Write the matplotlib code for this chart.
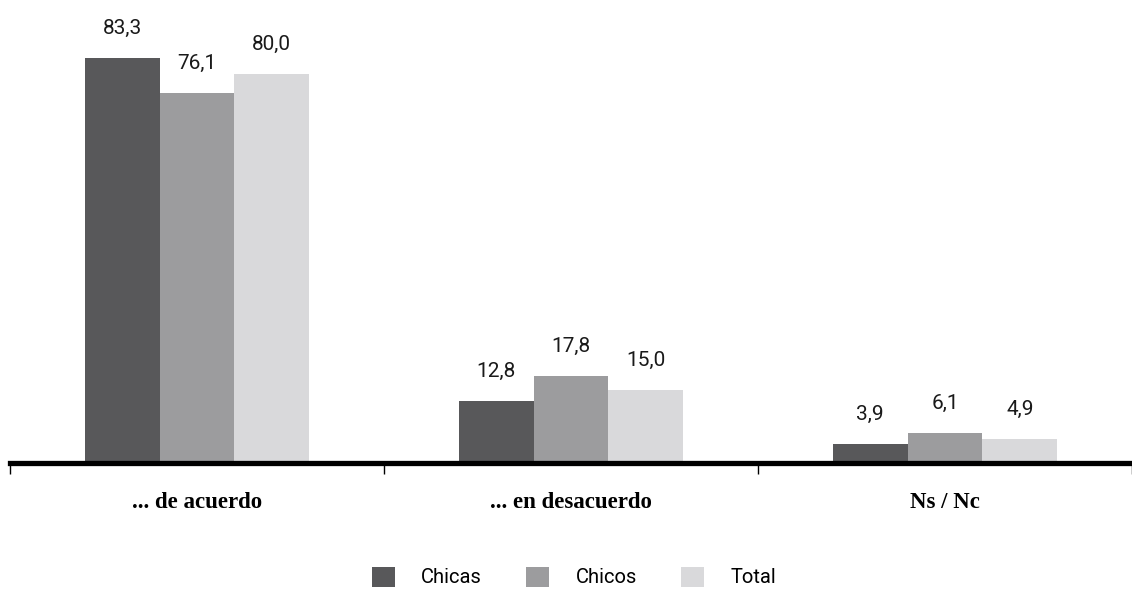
import matplotlib
matplotlib.use("Agg")
import matplotlib.pyplot as plt
from matplotlib.patches import Patch
import numpy as np

categories = ["... de acuerdo", "... en desacuerdo", "Ns / Nc"]
series_names = ["Chicas", "Chicos", "Total"]
chicas = [83.3, 12.8, 3.9]
chicos = [76.1, 17.8, 6.1]
total = [80.0, 15.0, 4.9]
colors = ["#58585a", "#9c9c9e", "#d9d9db"]

num_font = ["Roboto", "DejaVu Sans"]
cat_font = ["Liberation Serif", "DejaVu Serif"]

W, H = 1132, 589
fig = plt.figure(figsize=(W / 100, H / 100), dpi=100)
ax = fig.add_axes([10 / W, (H - 463) / H, 1122 / W, 463 / H])

x = np.arange(len(categories))
width = 0.2
for i, (name, vals, c) in enumerate(zip(series_names, [chicas, chicos, total], colors)):
    bars = ax.bar(x + (i - 1) * width, vals, width, color=c, label=name, zorder=2)
    for b, v in zip(bars, vals):
        ax.annotate(f"{v:.1f}".replace(".", ","),
                    (b.get_x() + b.get_width() / 2, b.get_height()),
                    xytext=(0, 14.5), textcoords="offset points",
                    ha="center", va="bottom", fontsize=15, family=num_font,
                    color="#1a1a1a")

ax.set_xlim(-0.5, 2.476)
ax.set_ylim(0, 95.2)
for s in ["top", "right", "left"]:
    ax.spines[s].set_visible(False)
ax.spines["bottom"].set_linewidth(3.8)
ax.spines["bottom"].set_zorder(3)
ax.set_yticks([])
ax.set_xticks(x)
ax.set_xticklabels(categories, fontsize=16.5, fontweight="bold", family=cat_font)
ax.tick_params(axis="x", which="major", length=0, pad=21)
ax.set_xticks([-0.5, 0.5, 1.5, 2.5], minor=True)
ax.tick_params(axis="x", which="minor", length=8, width=1, direction="out")

handles = [Patch(facecolor=c, edgecolor="none") for c in colors]
fig.legend(handles, series_names, loc="center", bbox_to_anchor=(0.507, (H - 577) / H),
           ncol=3, frameon=False,
           prop={"family": num_font, "size": 14.5},
           handlelength=1.15, handleheight=1.15, handletextpad=1.3, columnspacing=2.2)

fig.savefig("out.png", dpi=100)
